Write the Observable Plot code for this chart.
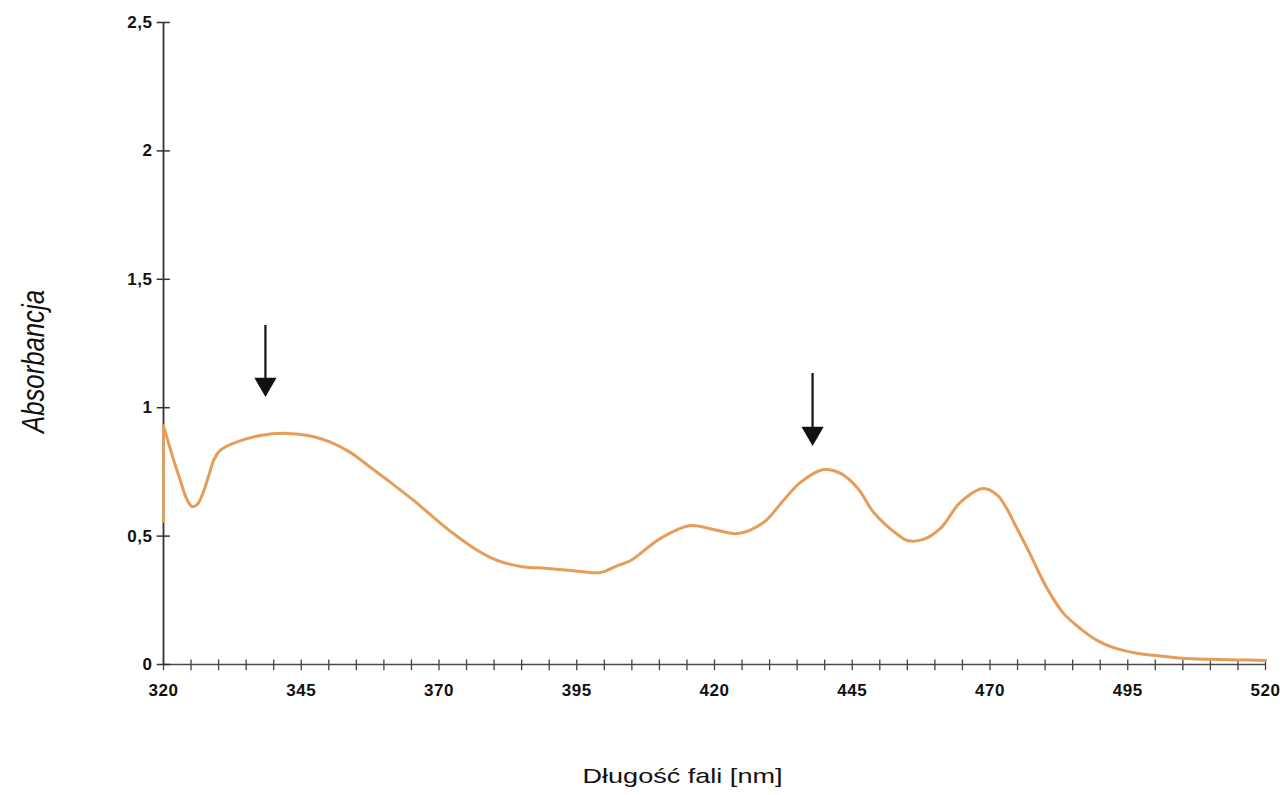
<!DOCTYPE html>
<html>
<head>
<meta charset="utf-8">
<script src="https://cdn.jsdelivr.net/npm/d3@7"></script>
<script src="https://cdn.jsdelivr.net/npm/@observablehq/plot@0.6"></script>
<style>
  html, body { margin: 0; padding: 0; background: #fff; }
  #chart { width: 1283px; height: 795px; }
</style>
</head>
<body>
<div id="chart"></div>
<script>
// Wavelength (nm) and absorbance
const wavelength = [320, 321.5, 323, 324.2, 325.2, 326.2, 327.2, 328.2, 329.2, 330.2, 332.2, 337.6, 342.5, 346.7, 350.3, 353.9, 357.6, 361.2, 365.4, 369, 372.6, 377, 380.6, 384.8, 389.7, 395.7, 399.3, 402.4, 404.8, 410.2, 415.6, 419.8, 424.2, 428.9, 432.5, 435.6, 439.8, 442.9, 446, 448.9, 453.4, 455, 457.9, 461, 464.6, 468.8, 471.4, 473.1, 474.3, 476.1, 477.4, 478.6, 480.4, 483.3, 486.4, 489.5, 492.4, 496.9, 500, 505, 510, 515, 520];
const absorbance = [0.93, 0.82, 0.72, 0.645, 0.615, 0.625, 0.67, 0.735, 0.80, 0.832, 0.857, 0.892, 0.90, 0.89, 0.866, 0.826, 0.767, 0.709, 0.639, 0.573, 0.51, 0.444, 0.405, 0.382, 0.374, 0.362, 0.358, 0.385, 0.405, 0.491, 0.541, 0.526, 0.51, 0.553, 0.639, 0.709, 0.759, 0.744, 0.686, 0.592, 0.503, 0.483, 0.487, 0.53, 0.631, 0.685, 0.658, 0.605, 0.555, 0.48, 0.425, 0.37, 0.295, 0.2, 0.14, 0.093, 0.066, 0.043, 0.035, 0.024, 0.02, 0.018, 0.016];

// Vertical start of the trace along the y axis at 320 nm
const startSegmentLow = 0.55;
const startSegmentHigh = 0.93;

// Tick values and labels
const xLabelTicks = [320, 345, 370, 395, 420, 445, 470, 495, 520];
const xMinorTicks = d3.range(320, 521, 5);
const yTicks = [0, 0.5, 1, 1.5, 2, 2.5];
const yTickLabels = ["0", "0,5", "1", "1,5", "2", "2,5"];

// Arrows marking the bands
const arrowX = [338.5, 437.8];
const arrowTop = [1.32, 1.133];
const arrowHead = [1.092, 0.901];

const spectrum = wavelength.map((w, i) => ({w, a: absorbance[i]}));
const arrows = arrowX.map((x, i) => ({x, top: arrowTop[i], head: arrowHead[i]}));

const font = "'Liberation Sans', Arial, Helvetica, sans-serif";

const chart = Plot.plot({
  width: 1283,
  height: 795,
  marginLeft: 163,
  marginRight: 18,
  marginTop: 22,
  marginBottom: 131,
  style: {fontFamily: font, fontSize: "17px", background: "#fff", color: "#111"},
  x: {domain: [320, 520], axis: null},
  y: {domain: [0, 2.5], axis: null},
  marks: [
    // axis lines
    Plot.ruleY([0], {x1: 320, x2: 520, stroke: "#4a4a4a", strokeWidth: 1.5}),
    Plot.ruleX([320], {y1: 0, y2: 2.5, stroke: "#333", strokeWidth: 1.8}),
    // ticks crossing the axes
    Plot.ruleX(xMinorTicks, {x: d => d, y1: -0.024, y2: 0.018, stroke: "#444", strokeWidth: 1.3}),
    Plot.ruleY(yTicks, {y: d => d, x1: 318.85, x2: 321.25, stroke: "#333", strokeWidth: 1.5}),
    // tick labels
    Plot.axisX({ticks: xLabelTicks, tickSize: 0, tickPadding: 19, fontWeight: "bold", tickFormat: d => String(d), label: null}),
    Plot.axisY({ticks: yTicks, tickSize: 0, tickPadding: 11, fontWeight: "bold", tickFormat: d => yTickLabels[yTicks.indexOf(d)], label: null}),
    // spectrum
    Plot.ruleX([320], {y1: startSegmentLow, y2: startSegmentHigh, stroke: "#e59d58", strokeWidth: 2.5}),
    Plot.line(spectrum, {x: "w", y: "a", stroke: "#e59d58", strokeWidth: 3, curve: "catmull-rom"}),
    // arrows
    Plot.ruleX(arrows, {x: "x", y1: "head", y2: "top", stroke: "#111", strokeWidth: 2.2}),
    Plot.dot(arrows, {x: "x", y: "head", symbol: "triangle", r: 7.3, fill: "#111", stroke: "#111", rotate: 180}),
    // axis titles
    Plot.text(["Absorbancja"], {frameAnchor: "left", dx: -129, dy: 18, rotate: -90, textAnchor: "middle", lineAnchor: "middle", fontSize: 31, fontStyle: "italic", fill: "#111"}),
    Plot.text(["Długość fali [nm]"], {frameAnchor: "bottom", dx: -32, dy: 112, textAnchor: "middle", lineAnchor: "middle", fontSize: 21, fill: "#111"})
  ]
});

document.getElementById("chart").appendChild(chart);
const tickTexts = new Set([...xLabelTicks.map(String), ...yTickLabels]);
chart.querySelectorAll("text").forEach(t => {
  if (tickTexts.has(t.textContent)) {
    t.style.fontSize = "17px";
    t.style.fontWeight = "bold";
    t.style.letterSpacing = "0.5px";
  }
  // condense / widen the axis titles to the reference's measured widths
  if (t.textContent === "Absorbancja") {
    t.setAttribute("textLength", "143");
    t.setAttribute("lengthAdjust", "spacingAndGlyphs");
  }
  if (t.textContent === "Długość fali [nm]") {
    t.setAttribute("textLength", "200");
    t.setAttribute("lengthAdjust", "spacingAndGlyphs");
  }
});
</script>
</body>
</html>
